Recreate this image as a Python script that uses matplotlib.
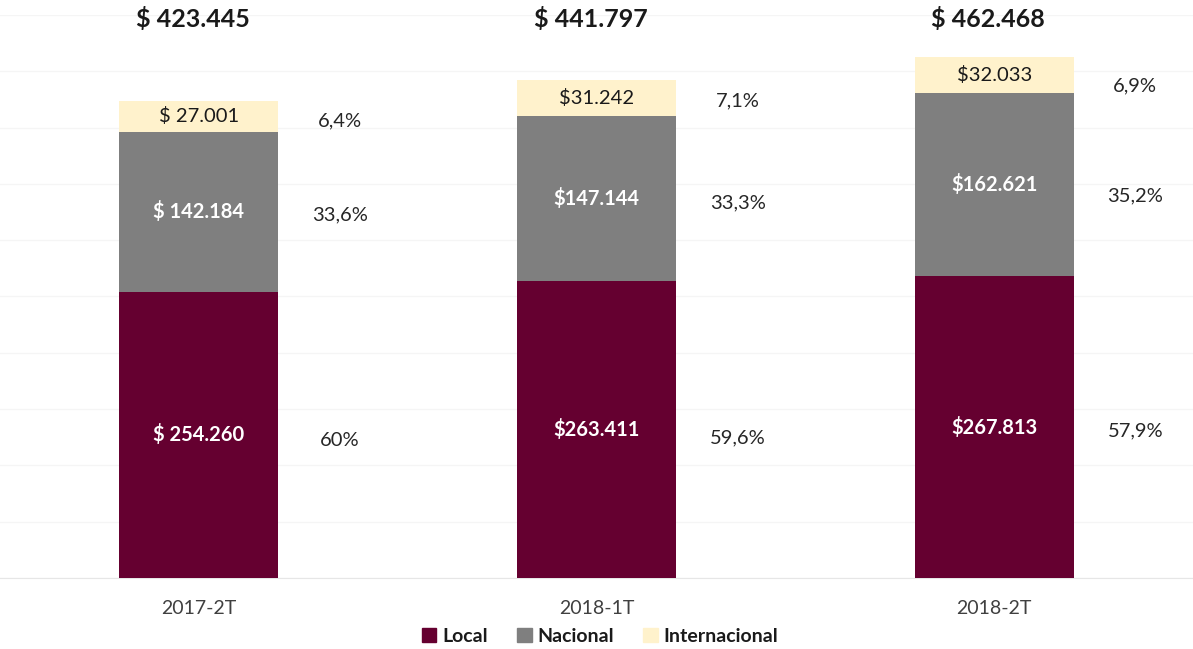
import matplotlib
matplotlib.use("Agg")
import matplotlib.pyplot as plt
import numpy as np
from matplotlib.patches import Patch

categories = ["2017-2T", "2018-1T", "2018-2T"]
local = [254260, 263411, 267813]
nacional = [142184, 147144, 162621]
internacional = [27001, 31242, 32033]
totals = [423445, 441797, 462468]
total_labels = ["$ 423.445", "$ 441.797", "$ 462.468"]
local_labels = ["$ 254.260", "$263.411", "$267.813"]
nacional_labels = ["$ 142.184", "$147.144", "$162.621"]
internacional_labels = ["$ 27.001", "$31.242", "$32.033"]
local_pct = ["60%", "59,6%", "57,9%"]
nacional_pct = ["33,6%", "33,3%", "35,2%"]
internacional_pct = ["6,4%", "7,1%", "6,9%"]

plt.rcParams['font.family'] = ['Lato', 'DejaVu Sans']

c_local = "#650030"
c_nac = "#7f7f7f"
c_int = "#fff2cc"

fig = plt.figure(figsize=(11.93, 6.49), dpi=100)
ax = fig.add_axes([0, 0.1094, 1, 0.977 - 0.1094])
x = np.arange(len(categories))
w = 0.40

loc = np.array(local)
nac = np.array(nacional)
intl = np.array(internacional)

ax.bar(x, loc, w, color=c_local, zorder=3)
ax.bar(x, nac, w, bottom=loc, color=c_nac, zorder=3)
ax.bar(x, intl, w, bottom=loc + nac, color=c_int, zorder=3)

# vertical nudges (points) for the percentage labels beside the bars
loc_dy = [-4, -6, -3]
nac_dy = [-2, -3, -8]
int_dy = [-3, -2, -8]

for i in range(len(x)):
    ax.text(x[i], loc[i] / 2, local_labels[i], ha='center', va='center',
            color='white', fontsize=14.5, fontweight='bold', zorder=4)
    ax.text(x[i], loc[i] + nac[i] / 2, nacional_labels[i], ha='center', va='center',
            color='white', fontsize=14.5, fontweight='bold', zorder=4)
    ax.text(x[i], loc[i] + nac[i] + intl[i] / 2, internacional_labels[i], ha='center',
            va='center', color='#1a1a1a', fontsize=14.5, zorder=4)
    px = x[i] + 0.355
    ax.annotate(local_pct[i], (px, loc[i] / 2), xytext=(0, loc_dy[i]),
                textcoords='offset points', ha='center', va='center',
                color='#262626', fontsize=14.5)
    ax.annotate(nacional_pct[i], (px, loc[i] + nac[i] / 2), xytext=(0, nac_dy[i]),
                textcoords='offset points', ha='center', va='center',
                color='#262626', fontsize=14.5)
    ax.annotate(internacional_pct[i], (px, loc[i] + nac[i] + intl[i] / 2),
                xytext=(0, int_dy[i]), textcoords='offset points', ha='center',
                va='center', color='#262626', fontsize=14.5)
    ax.text(x[i] - 0.015, 496000, total_labels[i], ha='center', va='center',
            color='#1a1a1a', fontsize=18, fontweight='bold', clip_on=False)

ax.set_xlim(-0.5, 2.5)
ax.set_ylim(0, 500000)
ax.set_yticks(np.arange(0, 500001, 50000))
ax.yaxis.grid(True, color='#f5f5f5', linewidth=1, zorder=0)
ax.set_axisbelow(True)
ax.tick_params(axis='y', left=False, labelleft=False)
ax.tick_params(axis='x', bottom=False, labelsize=14, labelcolor='#404040', pad=12)
ax.set_xticks(x)
ax.set_xticklabels(categories)
for s in ['top', 'left', 'right']:
    ax.spines[s].set_visible(False)
ax.spines['bottom'].set_color('#e6e6e6')

handles = [Patch(color=c_local, label='Local'),
           Patch(color=c_nac, label='Nacional'),
           Patch(color=c_int, label='Internacional')]
leg = fig.legend(handles=handles, loc='center', bbox_to_anchor=(0.503, 0.02),
                 ncol=3, frameon=False, handlelength=0.75, handleheight=0.75,
                 handletextpad=0.3, columnspacing=1.5,
                 prop={'weight': 'bold', 'size': 14})
for t in leg.get_texts():
    t.set_color('#1a1a1a')

fig.savefig("out.png", dpi=100)
